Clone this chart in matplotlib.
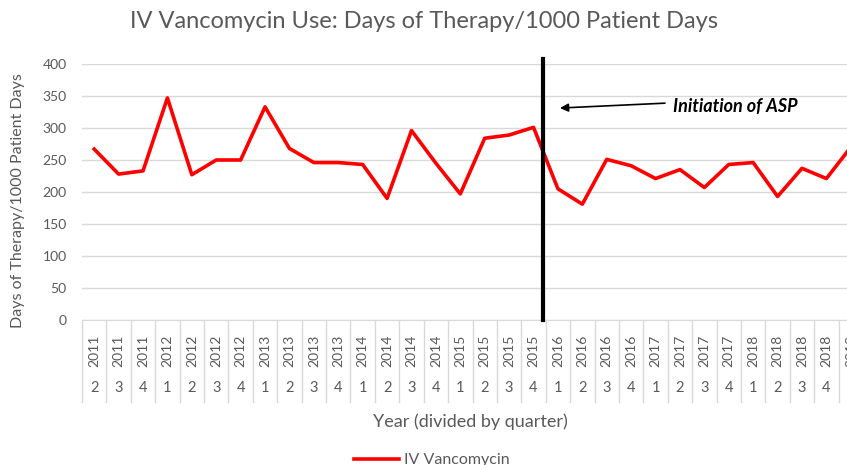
import matplotlib.pyplot as plt

plt.rcParams['font.family'] = ['Lato', 'DejaVu Sans']

# trimestres desde 2011 Q2 hasta 2019 Q1
anios = ['2011'] * 3 + ['2012'] * 4 + ['2013'] * 4 + ['2014'] * 4 + ['2015'] * 4 \
    + ['2016'] * 4 + ['2017'] * 4 + ['2018'] * 4 + ['2019']
trimestres = ['2', '3', '4'] + ['1', '2', '3', '4'] * 7 + ['1']
dot = [267, 228, 233, 347, 227, 250, 250, 333, 268, 246, 246, 243, 190, 296, 245, 197,
       284, 289, 301, 205, 181, 251, 241, 221, 235, 207, 243, 246, 193, 237, 221, 270]
inicio_asp = 18.4

gris = '#595959'
fig = plt.figure(figsize=(8.47, 4.65), dpi=100)
ax = fig.add_axes([82 / 847, 145 / 465, 781 / 847, 256 / 465])

x = list(range(len(dot)))
ax.plot(x, dot, color='#ff0000', linewidth=2.6, label='IV Vancomycin', zorder=3)
ax.set_xlim(-0.5, len(dot) - 0.5)
ax.set_ylim(0, 400)
ax.set_yticks(range(0, 401, 50))
ax.tick_params(axis='y', length=0, labelsize=10, labelcolor=gris, pad=11)
ax.set_xticks([])
ax.grid(axis='y', color='#d9d9d9', linewidth=1)
ax.set_axisbelow(True)
for s in ['top', 'right', 'left']:
    ax.spines[s].set_visible(False)
ax.spines['bottom'].set_color('#d9d9d9')

# eje de categorías en dos niveles
tr = ax.get_xaxis_transform()
for i in range(len(dot)):
    ax.text(i, -0.121, anios[i], rotation=90, ha='center', va='center',
            fontsize=10, color=gris, transform=tr)
    ax.text(i, -0.266, trimestres[i], ha='center', va='center',
            fontsize=10.5, color=gris, transform=tr)
for i in range(len(dot) + 1):
    ax.plot([i - 0.5, i - 0.5], [0, -0.32], color='#d9d9d9', linewidth=1,
            transform=tr, clip_on=False)

# inicio del programa ASP
ax.plot([inicio_asp, inicio_asp], [0, 408], color='black', linewidth=3, clip_on=False, zorder=4)
ax.annotate('', xy=(18.97, 331), xytext=(23.5, 339),
            arrowprops=dict(arrowstyle='-|>', color='black', lw=1.2, mutation_scale=12))
ax.text(23.7, 334, 'Initiation of ASP', fontsize=13, fontweight='bold',
        fontstyle='italic', va='center', ha='left', color='black')

fig.text(0.5, 1 - 22 / 465, 'IV Vancomycin Use: Days of Therapy/1000 Patient Days',
         ha='center', va='center', fontsize=17, color=gris)
fig.text(18 / 847, 1 - 201 / 465, 'Days of Therapy/1000 Patient Days', rotation=90,
         ha='center', va='center', fontsize=11.5, color=gris)
fig.text(470 / 847, 1 - 422 / 465, 'Year (divided by quarter)',
         ha='center', va='center', fontsize=13, color=gris)

fig.legend(loc='center', bbox_to_anchor=(432 / 847, 1 - 460 / 465), frameon=False,
           fontsize=11.5, handlelength=2.8, handletextpad=0.3, labelcolor=gris)

fig.savefig('out.png', dpi=100)
